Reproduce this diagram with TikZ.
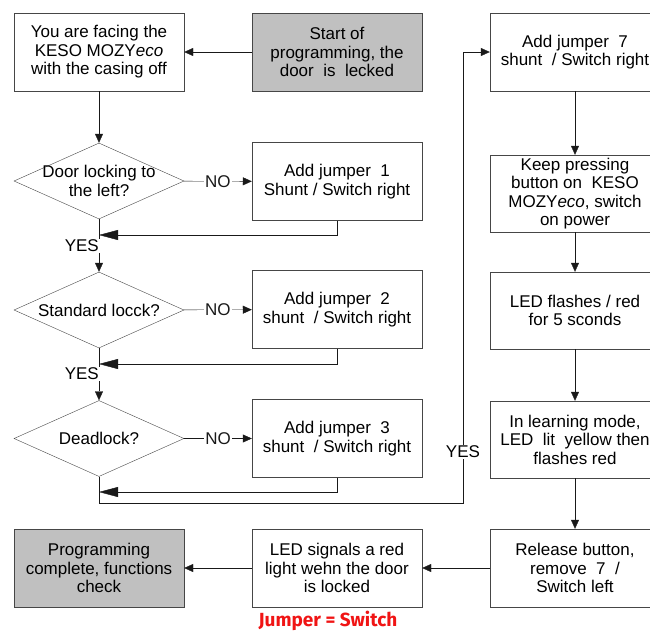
\documentclass[tikz,border=0pt]{standalone}
\usepackage{fontspec}
\setmainfont{Liberation Sans}
\newfontfamily\notefont{Fira Sans}
\usepackage{xcolor}
\usepackage{tikz}
\usetikzlibrary{arrows.meta,shapes.geometric}
\definecolor{boxgrey}{RGB}{192,192,192}
\definecolor{edge}{RGB}{70,70,70}
\definecolor{notered}{RGB}{240,20,20}

\begin{document}
\begin{tikzpicture}[x=1pt, y=-1pt,
    every node/.style={font=\fontsize{17}{18.5}\selectfont},
    box/.style={draw=edge, fill=white, minimum width=170pt, minimum height=78pt, align=center, inner sep=1pt},
    greybox/.style={box, fill=boxgrey},
    decision/.style={diamond, draw=edge, minimum width=170pt, minimum height=76pt, inner sep=0pt},
    flow/.style={-{Triangle[length=9pt,width=8pt]}, black!90},
    back/.style={-{Triangle[length=19pt,width=10pt]}, black!90},
    yesno/.style={fill=white, inner sep=1pt}]
  \useasboundingbox (0,0) rectangle (650,632);
  \clip (0,0) rectangle (650,632);
  % top row
  \node[box] (face) at (99,52) {You are facing the\\ KESO MOZY\textit{eco}\\ with the casing off};
  \node[greybox] (start) at (337,52) {Start of\\ programming, the\\ door~~is~~lecked};
  \node[box] (jump7) at (575,52) {Add jumper~~7\\ shunt~~/ Switch right};
  % decisions on the left
  \node[decision, label={[align=center]center:Door locking to\\ the left?}] (left) at (99,181) {};
  \node[decision, label={center:Standard locck?}] (std) at (99,310) {};
  \node[decision, label={center:Deadlock?}] (dead) at (99,438.5) {};
  \node[box] (jump1) at (337,181.5) {Add jumper~~1\\ Shunt / Switch right};
  \node[box] (jump2) at (337,309.5) {Add jumper~~2\\ shunt~~/ Switch right};
  \node[box] (jump3) at (337,438.5) {Add jumper~~3\\ shunt~~/ Switch right};
  % right column
  \node[box, minimum height=77pt] (press) at (575,193.5) {Keep pressing\\ button on~~KESO\\ MOZY\textit{eco}, switch\\ on power};
  \node[box, minimum height=77pt] (flash) at (575,310.5) {LED flashes / red\\ for 5 sconds};
  \node[box, minimum height=77pt] (learn) at (575,439.5) {In learning mode,\\ LED~~lit~~yellow then\\ flashes red};
  \node[box] (release) at (575,568) {Release button,\\ remove~~7~~/\\ Switch left};
  % bottom row
  \node[box] (signal) at (337,568) {LED signals a red\\ light wehn the door\\ is locked};
  \node[greybox] (done) at (99,568) {Programming\\ complete, functions\\ check};
  \node[font=\notefont\bfseries\fontsize{19}{20}\selectfont, text=notered] (note) at (328,621) {Jumper = Switch};
  % joints
  \coordinate (j1) at (99,235);
  \coordinate (j2) at (99,364);
  \coordinate (j3) at (99,492);
  \coordinate (turn) at (463,503);
  % connectors
  \draw[flow] (start) -- (face);
  \draw[flow] (face) -- (left);
  \draw[flow] (left) -- (std);
  \draw[flow] (std) -- (dead);
  \draw[flow] (left) -- node[yesno]{NO} (jump1);
  \draw[flow] (std) -- node[yesno]{NO} (jump2);
  \draw[flow] (dead) -- node[yesno]{NO} (jump3);
  \draw[back] (jump1.south) |- (j1);
  \draw[back] (jump2.south) |- (j2);
  \draw[back] (jump3.south) |- (j3);
  \draw[flow] (dead.south) |- (turn) |- (jump7.west);
  \node[yesno, anchor=east] (yes1) at (100,246) {YES};
  \node[yesno, anchor=east] (yes2) at (100,374) {YES};
  \node[yesno] (yes3) at (463,452) {YES};
  \draw[flow] (jump7) -- (press);
  \draw[flow] (press) -- (flash);
  \draw[flow] (flash) -- (learn);
  \draw[flow] (learn) -- (release);
  \draw[flow] (release) -- (signal);
  \draw[flow] (signal) -- (done);
\end{tikzpicture}
\end{document}
